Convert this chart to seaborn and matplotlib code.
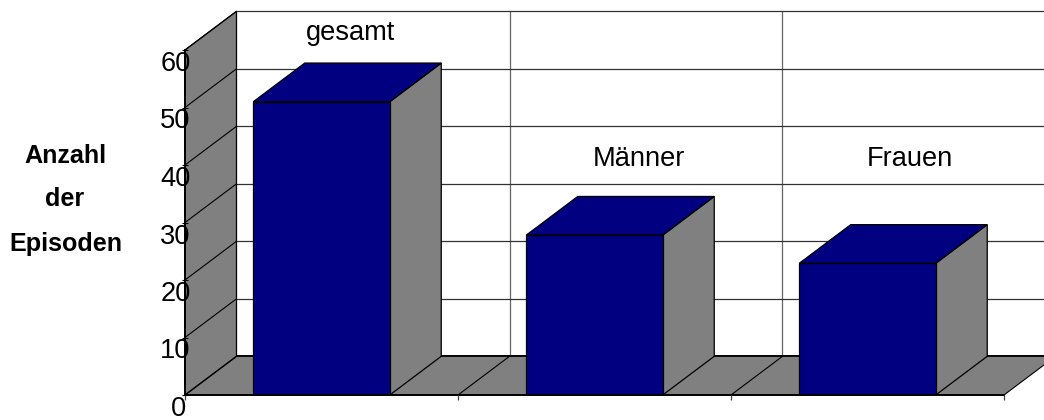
import matplotlib
matplotlib.use("Agg")
import matplotlib.pyplot as plt
from matplotlib.patches import Polygon
from matplotlib.transforms import ScaledTranslation
import pandas as pd
import seaborn as sns

categories = ["gesamt", "Männer", "Frauen"]
values = [51, 27.8, 22.9]
y_ticks = [0, 10, 20, 30, 40, 50, 60]
left_title = ["Anzahl", "der", "Episoden"]

sns.set_style("white")
plt.rcParams['font.family'] = ['Liberation Sans', 'DejaVu Sans']
plt.rcParams['text.color'] = "black"
plt.rcParams['ytick.labelcolor'] = "black"

W, H = 1044, 420
NAVY = "#000080"
GREY = "#808080"

# depth of the fake 3d box, in data units
DX = 51.5 / 273
DY = 38.7 / 5.75

fig = plt.figure(figsize=(W / 100, H / 100), dpi=100)
ax = fig.add_axes([185 / W, (H - 395) / H, 819 / W, 345 / H])

df = pd.DataFrame({"cat": categories, "val": values})
sns.barplot(data=df, x="cat", y="val", color=NAVY, saturation=1, width=0.5,
            edgecolor="black", linewidth=0.9, zorder=6, ax=ax)
ax.set_xlim(-0.5, 2.5)
ax.set_ylim(0, 60)
ax.set_xlabel("")
ax.set_ylabel("")

x0, x1 = ax.get_xlim()

# back wall
for y in y_ticks:
    lw = 1.3 if y == 0 else 0.9
    ax.plot([x0 + DX, x1 + DX], [y + DY, y + DY], color="#333333", lw=lw,
            clip_on=False, zorder=2)
for x in [x0 + 1, x0 + 2]:
    ax.plot([x + DX, x + DX], [DY, 60 + DY], color="#666666", lw=0.9,
            clip_on=False, zorder=1.5)

# floor and left wall
ax.add_patch(Polygon([(x0, 0), (x0 + DX, DY), (x1 + DX, DY), (x1, 0)], fc=GREY,
                     ec="none", clip_on=False, zorder=3))
ax.add_patch(Polygon([(x0, 0), (x0 + DX, DY), (x0 + DX, 60 + DY), (x0, 60)], fc=GREY,
                     ec="black", lw=0.9, clip_on=False, zorder=3))
ax.plot([x0 + DX, x1 + DX], [DY, DY], color="black", lw=1.3, clip_on=False, zorder=3.2)
for y in y_ticks:
    ax.plot([x0, x0 + DX], [y, y + DY], color="black", lw=0.8, clip_on=False, zorder=3.2)
for x in [x0 + 1, x0 + 2, x0 + 3]:
    ax.plot([x, x + DX], [0, DY], color="black", lw=0.8, clip_on=False, zorder=3.2)

# side and top of each bar
for bar in ax.containers[0]:
    l, r = bar.get_x(), bar.get_x() + bar.get_width()
    t = bar.get_height()
    ax.add_patch(Polygon([(r, 0), (r + DX, DY), (r + DX, t + DY), (r, t)], fc=GREY,
                         ec="black", lw=0.9, clip_on=False, zorder=5))
    ax.add_patch(Polygon([(l, t), (l + DX, t + DY), (r + DX, t + DY), (r, t)], fc=NAVY,
                         ec="black", lw=0.9, clip_on=False, zorder=5))

# labels sit freely in the chart
ax.text(0.106, 61.7, categories[0], fontsize=19.6, ha="center", va="baseline", zorder=8)
ax.text(1.163, 39.8, categories[1], fontsize=19.6, ha="center", va="baseline", zorder=8)
ax.text(2.156, 39.8, categories[2], fontsize=19.6, ha="center", va="baseline", zorder=8)

sns.despine(ax=ax, top=True, right=True)
for side in ["left", "bottom"]:
    ax.spines[side].set_linewidth(1.4)
    ax.spines[side].set_color("black")
    ax.spines[side].set_zorder(7)

ax.set_xticks([x0, x0 + 1, x0 + 2, x0 + 3])
ax.set_xticklabels([])
ax.tick_params(axis="x", bottom=True, length=3.5, width=0.9, color="#444444", direction="out")
ax.set_yticks(y_ticks)
ax.set_yticklabels([str(v) for v in y_ticks], fontsize=19.6)
ax.tick_params(axis="y", left=True, length=4, width=0.8, color="black", direction="inout", pad=-6)
# the numbers lie over the left wall
ax.yaxis.set_zorder(9)
ax.xaxis.set_zorder(9)

# tick labels hang just below their ticks, the 0 sits a bit further left
for v, lab in zip(y_ticks, ax.get_yticklabels()):
    off_x = -4 / 100 if v == 0 else 0
    shift = ScaledTranslation(off_x, -11 / 100, fig.dpi_scale_trans)
    lab.set_transform(lab.get_transform() + shift)
    lab.set_clip_on(False)

fig.text(65 / W, 1 - 163 / H, left_title[0], fontsize=18.1, fontweight="bold", ha="center", va="baseline")
fig.text(65 / W, 1 - 206 / H, left_title[1], fontsize=18.1, fontweight="bold", ha="center", va="baseline")
fig.text(65.5 / W, 1 - 251 / H, left_title[2], fontsize=18.1, fontweight="bold", ha="center", va="baseline")

fig.savefig("out.png", dpi=100)
